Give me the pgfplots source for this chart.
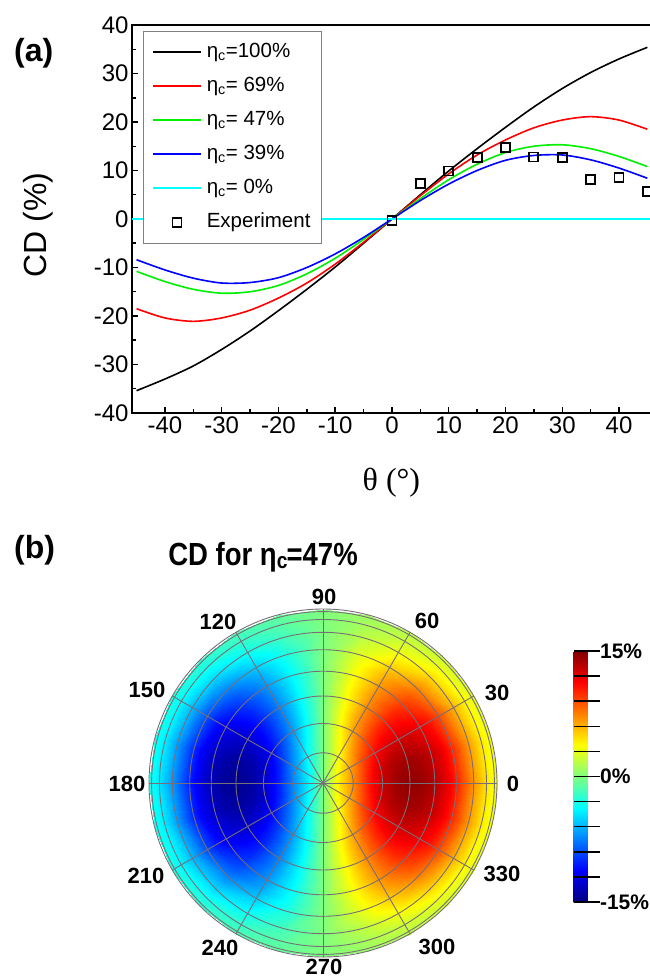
\documentclass[border=0pt]{standalone}
\usepackage{graphicx}
\usepackage{pgfplots}
\pgfplotsset{compat=1.18}
\usepackage{fontspec}
\setmainfont{Liberation Sans}
\newfontfamily\serifg{Liberation Serif}
\definecolor{cgreen}{RGB}{0,240,0}
\definecolor{ccyan}{RGB}{0,255,255}
\definecolor{cred}{RGB}{255,0,0}
\definecolor{cblue}{RGB}{0,0,255}
\definecolor{gridc}{RGB}{120,110,120}
\begin{document}
\begin{tikzpicture}
\useasboundingbox (0,0) rectangle (649pt,-980pt);
% ---------------- panel (a)
\begin{axis}[
  at={(132pt,-25pt)}, anchor=north west,
  scale only axis, width=518.8pt, height=388pt,
  xmin=-45.8, xmax=45.6, ymin=-40, ymax=40,
  xtick={-40,-30,...,40}, ytick={-40,-30,...,40},
  minor x tick num=1, minor y tick num=1,
  tick pos=left, tick align=inside,
  major tick length=6pt, minor tick length=3.5pt,
  every tick/.style={black, line width=1.5pt},
  axis line style={line width=2pt},
  tick label style={font=\fontsize{24}{24}\selectfont},
  /pgf/number format/assume math mode=true,
  xlabel={\serifg θ (°)},
  xlabel style={at={(axis description cs:0.5,-0.18)}, anchor=center, font=\fontsize{32}{32}\selectfont},
  ylabel={CD (\%)},
  ylabel style={at={(axis description cs:-0.181,0.4845)}, anchor=center, font=\fontsize{32}{32}\selectfont},
  legend style={at={(axis description cs:0,1)}, anchor=north west, xshift=11pt, yshift=-6pt,
    draw=gray, fill=white, font=\fontsize{20.5}{20.5}\selectfont,
    inner xsep=9pt, inner ysep=10pt, row sep=12pt, column sep=3pt,
    nodes={inner sep=2pt, text height=14pt, text depth=4pt}},
  legend cell align=left,
  legend image code/.code={\draw[mark repeat=2,mark phase=2,#1] plot coordinates {(0pt,0pt) (24pt,0pt) (48pt,0pt)};},
]
\addplot[black, line width=1.6pt, smooth] coordinates {
(-45,-35.4) (-40,-33.0) (-35,-30.3) (-30,-26.9) (-25,-23.1) (-20,-18.9) (-15,-14.5) (-10,-9.9) (-5,-5.0)
(0,0) (5,5.0) (10,9.9) (15,14.5) (20,18.9) (25,23.1) (30,26.9) (35,30.2) (40,33.0) (45,35.4)};
\addlegendentry{η\textsubscript{c}=100\%}
\addplot[cred, line width=1.6pt, smooth] coordinates {
(-45,-18.5) (-40,-20.4) (-35,-21.1) (-30,-20.4) (-25,-18.8) (-20,-16.3) (-15,-13.2) (-10,-9.3) (-5,-4.8)
(0,0) (5,4.8) (10,9.3) (15,13.2) (20,16.3) (25,18.8) (30,20.4) (35,21.1) (40,20.4) (45,18.5)};
\addlegendentry{η\textsubscript{c}= 69\%}
\addplot[cgreen, line width=1.6pt, smooth] coordinates {
(-45,-10.8) (-40,-12.9) (-35,-14.5) (-30,-15.3) (-25,-15.0) (-20,-13.7) (-15,-11.3) (-10,-8.1) (-5,-4.2)
(0,0) (5,4.2) (10,8.1) (15,11.3) (20,13.7) (25,15.0) (30,15.3) (35,14.5) (40,12.9) (45,10.8)};
\addlegendentry{η\textsubscript{c}= 47\%}
\addplot[cblue, line width=1.6pt, smooth] coordinates {
(-45,-8.4) (-40,-10.5) (-35,-12.2) (-30,-13.2) (-25,-13.1) (-20,-12.1) (-15,-10.0) (-10,-7.2) (-5,-3.8)
(0,0) (5,3.8) (10,7.2) (15,10.0) (20,12.1) (25,13.1) (30,13.2) (35,12.2) (40,10.5) (45,8.4)};
\addlegendentry{η\textsubscript{c}= 39\%}
\addplot[ccyan, line width=1.6pt] coordinates {(-45.8,0) (45.6,0)};
\addlegendentry{η\textsubscript{c}= 0\%}
\addplot[only marks, mark=square, mark size=4.5pt, mark options={line width=1.8pt, black}] coordinates {
(0,-0.3) (5,7.3) (10,9.9) (15,12.6) (20,14.8) (25,12.8) (30,12.7) (35,8.2) (40,8.5) (45,5.6)};
\addlegendentry{Experiment}
\end{axis}
% ---------------- panel (b)
\begin{axis}[
  at={(323pt,-783pt)}, anchor=center,
  x=174pt, y=174pt, xmin=-1, xmax=1, ymin=-1, ymax=1,
  hide axis, colormap/jet, point meta min=-15, point meta max=15,
  colorbar,
  colorbar style={at={(parent axis.north east)}, anchor=north west, xshift=68pt, yshift=-42pt,
    scale only axis, width=16pt, height=251pt,
    axis line style={draw=none},
    ytick={-15,-12,...,15}, yticklabels={-15\%,,,,,0\%,,,,,15\%},
    tick align=inside, major tick length=21pt,
    every tick/.style={black, line width=1.5pt},
    every major tick/.append style={xshift=5pt},
    /pgf/number format/assume math mode=true,
    yticklabel style={font=\fontsize{21}{21}\selectfont\bfseries, xshift=7pt}},
]
\addplot[surf, shader=interp, mesh/rows=25, mesh/cols=15, point meta=explicit, data cs=polar] coordinates {
(0,0)[0] (0,0.0872)[4.2] (0,0.1736)[7.2] (0,0.2588)[10.5] (0,0.342)[13.0] (0,0.4226)[14.2] (0,0.5)[14.6] (0,0.5736)[14.3] (0,0.6428)[13.5] (0,0.7071)[12.2] (0,0.766)[10.5] (0,0.866)[6.8] (0,0.9397)[4.5] (0,0.9848)[3.6] (0,1)[3.2]
(15,0)[0] (15,0.0872)[4.06] (15,0.1736)[6.96] (15,0.2588)[10.14] (15,0.342)[12.56] (15,0.4226)[13.72] (15,0.5)[14.10] (15,0.5736)[13.81] (15,0.6428)[13.04] (15,0.7071)[11.79] (15,0.766)[10.14] (15,0.866)[6.57] (15,0.9397)[4.35] (15,0.9848)[3.48] (15,1)[3.09]
(30,0)[0] (30,0.0872)[3.64] (30,0.1736)[6.24] (30,0.2588)[9.09] (30,0.342)[11.26] (30,0.4226)[12.30] (30,0.5)[12.64] (30,0.5736)[12.38] (30,0.6428)[11.69] (30,0.7071)[10.57] (30,0.766)[9.09] (30,0.866)[5.89] (30,0.9397)[3.90] (30,0.9848)[3.12] (30,1)[2.77]
(45,0)[0] (45,0.0872)[2.97] (45,0.1736)[5.09] (45,0.2588)[7.42] (45,0.342)[9.19] (45,0.4226)[10.04] (45,0.5)[10.32] (45,0.5736)[10.11] (45,0.6428)[9.54] (45,0.7071)[8.63] (45,0.766)[7.42] (45,0.866)[4.81] (45,0.9397)[3.18] (45,0.9848)[2.55] (45,1)[2.26]
(60,0)[0] (60,0.0872)[2.10] (60,0.1736)[3.60] (60,0.2588)[5.25] (60,0.342)[6.50] (60,0.4226)[7.10] (60,0.5)[7.30] (60,0.5736)[7.15] (60,0.6428)[6.75] (60,0.7071)[6.10] (60,0.766)[5.25] (60,0.866)[3.40] (60,0.9397)[2.25] (60,0.9848)[1.80] (60,1)[1.60]
(75,0)[0] (75,0.0872)[1.09] (75,0.1736)[1.86] (75,0.2588)[2.72] (75,0.342)[3.37] (75,0.4226)[3.68] (75,0.5)[3.78] (75,0.5736)[3.70] (75,0.6428)[3.50] (75,0.7071)[3.16] (75,0.766)[2.72] (75,0.866)[1.76] (75,0.9397)[1.17] (75,0.9848)[0.93] (75,1)[0.83]
(90,0)[0] (90,0.0872)[0] (90,0.1736)[0] (90,0.2588)[0] (90,0.342)[0] (90,0.4226)[0] (90,0.5)[0] (90,0.5736)[0] (90,0.6428)[0] (90,0.7071)[0] (90,0.766)[0] (90,0.866)[0] (90,0.9397)[0] (90,0.9848)[0] (90,1)[0]
(105,0)[0] (105,0.0872)[-1.09] (105,0.1736)[-1.86] (105,0.2588)[-2.72] (105,0.342)[-3.37] (105,0.4226)[-3.68] (105,0.5)[-3.78] (105,0.5736)[-3.70] (105,0.6428)[-3.50] (105,0.7071)[-3.16] (105,0.766)[-2.72] (105,0.866)[-1.76] (105,0.9397)[-1.17] (105,0.9848)[-0.93] (105,1)[-0.83]
(120,0)[0] (120,0.0872)[-2.10] (120,0.1736)[-3.60] (120,0.2588)[-5.25] (120,0.342)[-6.50] (120,0.4226)[-7.10] (120,0.5)[-7.30] (120,0.5736)[-7.15] (120,0.6428)[-6.75] (120,0.7071)[-6.10] (120,0.766)[-5.25] (120,0.866)[-3.40] (120,0.9397)[-2.25] (120,0.9848)[-1.80] (120,1)[-1.60]
(135,0)[0] (135,0.0872)[-2.97] (135,0.1736)[-5.09] (135,0.2588)[-7.42] (135,0.342)[-9.19] (135,0.4226)[-10.04] (135,0.5)[-10.32] (135,0.5736)[-10.11] (135,0.6428)[-9.54] (135,0.7071)[-8.63] (135,0.766)[-7.42] (135,0.866)[-4.81] (135,0.9397)[-3.18] (135,0.9848)[-2.55] (135,1)[-2.26]
(150,0)[0] (150,0.0872)[-3.64] (150,0.1736)[-6.24] (150,0.2588)[-9.09] (150,0.342)[-11.26] (150,0.4226)[-12.30] (150,0.5)[-12.64] (150,0.5736)[-12.38] (150,0.6428)[-11.69] (150,0.7071)[-10.57] (150,0.766)[-9.09] (150,0.866)[-5.89] (150,0.9397)[-3.90] (150,0.9848)[-3.12] (150,1)[-2.77]
(165,0)[0] (165,0.0872)[-4.06] (165,0.1736)[-6.96] (165,0.2588)[-10.14] (165,0.342)[-12.56] (165,0.4226)[-13.72] (165,0.5)[-14.10] (165,0.5736)[-13.81] (165,0.6428)[-13.04] (165,0.7071)[-11.79] (165,0.766)[-10.14] (165,0.866)[-6.57] (165,0.9397)[-4.35] (165,0.9848)[-3.48] (165,1)[-3.09]
(180,0)[0] (180,0.0872)[-4.2] (180,0.1736)[-7.2] (180,0.2588)[-10.5] (180,0.342)[-13.0] (180,0.4226)[-14.2] (180,0.5)[-14.6] (180,0.5736)[-14.3] (180,0.6428)[-13.5] (180,0.7071)[-12.2] (180,0.766)[-10.5] (180,0.866)[-6.8] (180,0.9397)[-4.5] (180,0.9848)[-3.6] (180,1)[-3.2]
(195,0)[0] (195,0.0872)[-4.06] (195,0.1736)[-6.96] (195,0.2588)[-10.14] (195,0.342)[-12.56] (195,0.4226)[-13.72] (195,0.5)[-14.10] (195,0.5736)[-13.81] (195,0.6428)[-13.04] (195,0.7071)[-11.79] (195,0.766)[-10.14] (195,0.866)[-6.57] (195,0.9397)[-4.35] (195,0.9848)[-3.48] (195,1)[-3.09]
(210,0)[0] (210,0.0872)[-3.64] (210,0.1736)[-6.24] (210,0.2588)[-9.09] (210,0.342)[-11.26] (210,0.4226)[-12.30] (210,0.5)[-12.64] (210,0.5736)[-12.38] (210,0.6428)[-11.69] (210,0.7071)[-10.57] (210,0.766)[-9.09] (210,0.866)[-5.89] (210,0.9397)[-3.90] (210,0.9848)[-3.12] (210,1)[-2.77]
(225,0)[0] (225,0.0872)[-2.97] (225,0.1736)[-5.09] (225,0.2588)[-7.42] (225,0.342)[-9.19] (225,0.4226)[-10.04] (225,0.5)[-10.32] (225,0.5736)[-10.11] (225,0.6428)[-9.54] (225,0.7071)[-8.63] (225,0.766)[-7.42] (225,0.866)[-4.81] (225,0.9397)[-3.18] (225,0.9848)[-2.55] (225,1)[-2.26]
(240,0)[0] (240,0.0872)[-2.10] (240,0.1736)[-3.60] (240,0.2588)[-5.25] (240,0.342)[-6.50] (240,0.4226)[-7.10] (240,0.5)[-7.30] (240,0.5736)[-7.15] (240,0.6428)[-6.75] (240,0.7071)[-6.10] (240,0.766)[-5.25] (240,0.866)[-3.40] (240,0.9397)[-2.25] (240,0.9848)[-1.80] (240,1)[-1.60]
(255,0)[0] (255,0.0872)[-1.09] (255,0.1736)[-1.86] (255,0.2588)[-2.72] (255,0.342)[-3.37] (255,0.4226)[-3.68] (255,0.5)[-3.78] (255,0.5736)[-3.70] (255,0.6428)[-3.50] (255,0.7071)[-3.16] (255,0.766)[-2.72] (255,0.866)[-1.76] (255,0.9397)[-1.17] (255,0.9848)[-0.93] (255,1)[-0.83]
(270,0)[0] (270,0.0872)[0] (270,0.1736)[0] (270,0.2588)[0] (270,0.342)[0] (270,0.4226)[0] (270,0.5)[0] (270,0.5736)[0] (270,0.6428)[0] (270,0.7071)[0] (270,0.766)[0] (270,0.866)[0] (270,0.9397)[0] (270,0.9848)[0] (270,1)[0]
(285,0)[0] (285,0.0872)[1.09] (285,0.1736)[1.86] (285,0.2588)[2.72] (285,0.342)[3.37] (285,0.4226)[3.68] (285,0.5)[3.78] (285,0.5736)[3.70] (285,0.6428)[3.50] (285,0.7071)[3.16] (285,0.766)[2.72] (285,0.866)[1.76] (285,0.9397)[1.17] (285,0.9848)[0.93] (285,1)[0.83]
(300,0)[0] (300,0.0872)[2.10] (300,0.1736)[3.60] (300,0.2588)[5.25] (300,0.342)[6.50] (300,0.4226)[7.10] (300,0.5)[7.30] (300,0.5736)[7.15] (300,0.6428)[6.75] (300,0.7071)[6.10] (300,0.766)[5.25] (300,0.866)[3.40] (300,0.9397)[2.25] (300,0.9848)[1.80] (300,1)[1.60]
(315,0)[0] (315,0.0872)[2.97] (315,0.1736)[5.09] (315,0.2588)[7.42] (315,0.342)[9.19] (315,0.4226)[10.04] (315,0.5)[10.32] (315,0.5736)[10.11] (315,0.6428)[9.54] (315,0.7071)[8.63] (315,0.766)[7.42] (315,0.866)[4.81] (315,0.9397)[3.18] (315,0.9848)[2.55] (315,1)[2.26]
(330,0)[0] (330,0.0872)[3.64] (330,0.1736)[6.24] (330,0.2588)[9.09] (330,0.342)[11.26] (330,0.4226)[12.30] (330,0.5)[12.64] (330,0.5736)[12.38] (330,0.6428)[11.69] (330,0.7071)[10.57] (330,0.766)[9.09] (330,0.866)[5.89] (330,0.9397)[3.90] (330,0.9848)[3.12] (330,1)[2.77]
(345,0)[0] (345,0.0872)[4.06] (345,0.1736)[6.96] (345,0.2588)[10.14] (345,0.342)[12.56] (345,0.4226)[13.72] (345,0.5)[14.10] (345,0.5736)[13.81] (345,0.6428)[13.04] (345,0.7071)[11.79] (345,0.766)[10.14] (345,0.866)[6.57] (345,0.9397)[4.35] (345,0.9848)[3.48] (345,1)[3.09]
(360,0)[0] (360,0.0872)[4.2] (360,0.1736)[7.2] (360,0.2588)[10.5] (360,0.342)[13.0] (360,0.4226)[14.2] (360,0.5)[14.6] (360,0.5736)[14.3] (360,0.6428)[13.5] (360,0.7071)[12.2] (360,0.766)[10.5] (360,0.866)[6.8] (360,0.9397)[4.5] (360,0.9848)[3.6] (360,1)[3.2]
};
\end{axis}
% polar grid
\begin{scope}[shift={(323pt,-783pt)}]
\foreach \r in {30.2,59.5,87,111.8,133.3,150.7,163.5,171.4,174}
  \draw[gridc, line width=0.9pt] (0,0) circle[radius=\r pt];
\foreach \a in {0,30,...,330}
  \draw[gridc, line width=0.9pt] (0,0) -- (\a:174pt);
\end{scope}
% labels
\begin{scope}[x=1pt, y=-1pt]
\node[anchor=base west, inner sep=0pt, font=\fontsize{32}{32}\selectfont\bfseries] at (14,61) {(a)};
\node[anchor=base west, inner sep=0pt, font=\fontsize{32}{32}\selectfont\bfseries] at (14,558) {(b)};
\node[anchor=base, inner sep=0pt, font=\fontsize{32}{32}\selectfont\bfseries] at (263,565)
  {\scalebox{0.86}[1]{CD for η\textsubscript{c}\kern-0.05em=47\%}};
\begin{scope}[every node/.style={font=\fontsize{22}{22}\selectfont\bfseries, inner sep=0pt}]
\node at (324,597) {90};
\node at (427,621) {60};
\node at (497,693) {30};
\node at (513,784) {0};
\node at (502,874) {330};
\node at (437,947) {300};
\node at (324,967) {270};
\node at (220,948) {240};
\node at (146,876) {210};
\node at (127,784) {180};
\node at (147,690) {150};
\node at (218,622) {120};
\end{scope}
\end{scope}
\end{tikzpicture}
\end{document}
